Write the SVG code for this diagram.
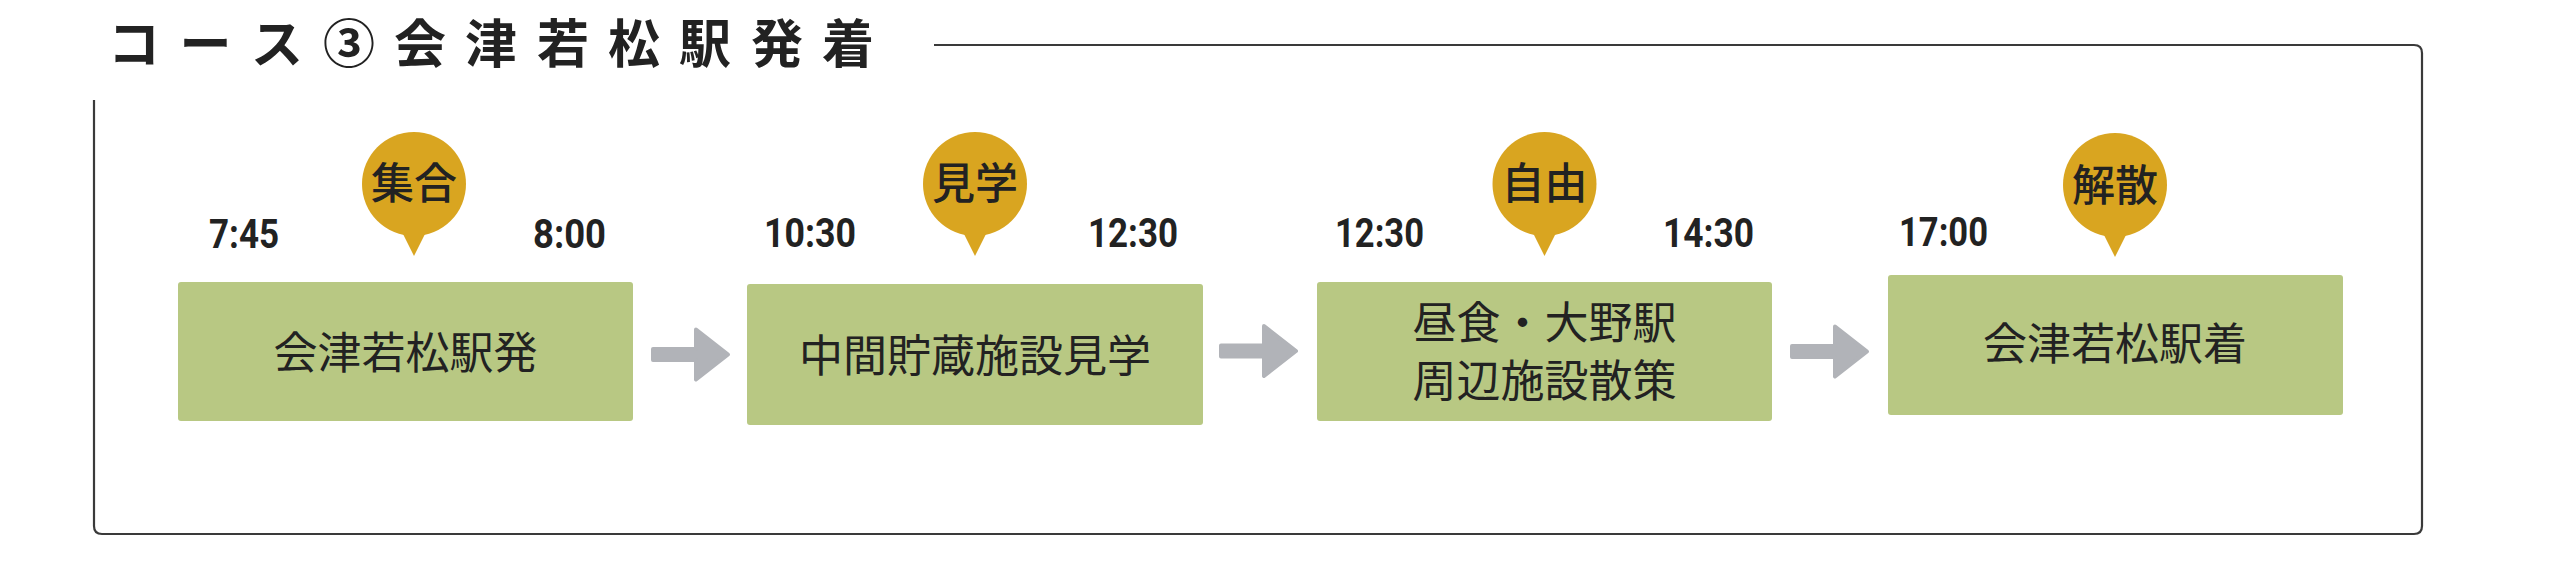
<svg xmlns="http://www.w3.org/2000/svg" xmlns:xlink="http://www.w3.org/1999/xlink" width="2560" height="574" viewBox="0 0 2560 574">
<style>
.title{font-family:"Noto Sans CJK JP","Noto Sans",sans-serif;font-size:52px;font-weight:700;fill:#222;text-anchor:middle}
.time{font-family:Roboto,"Liberation Sans",sans-serif;font-size:40px;font-weight:700;fill:#222}
.box{fill:#b8c883}
.btxt{font-family:"Noto Sans CJK JP",sans-serif;font-size:44px;font-weight:400;fill:#222;text-anchor:middle}
.bub{fill:#d9a520}
.bubtxt{font-family:"Noto Sans CJK JP",sans-serif;font-size:43px;font-weight:500;fill:#222;text-anchor:middle}
.arrow{fill:#b1b3b8;stroke:#b1b3b8;stroke-width:4;stroke-linejoin:round}
.frame{fill:none;stroke:#3a3a3a;stroke-width:2.2}
</style>
<defs>
<g id="bubble"><circle cx="0" cy="0" r="52"/><path d="M-14,44 L0,72 L14,44 Z"/></g>
<polygon id="arr" points="2,-5.5 45,-5.5 45,-25 77,0 45,25 45,5.5 2,5.5"/>
</defs>
<g id="title">
<text class="title" y="63"><tspan x="134">コ</tspan><tspan x="205.5">ー</tspan><tspan x="277">ス</tspan><tspan x="349">③</tspan><tspan x="420">会</tspan><tspan x="491">津</tspan><tspan x="563">若</tspan><tspan x="634">松</tspan><tspan x="705">駅</tspan><tspan x="777">発</tspan><tspan x="848">着</tspan></text>
</g>
<g id="frame">
<path class="frame" d="M934,45 H2414 Q2422,45 2422,53 V526 Q2422,534 2414,534 H102 Q94,534 94,526 V100"/>
</g>
<g id="connectors">
<use xlink:href="#arr" class="arrow" transform="translate(651,354.5)"/>
<use xlink:href="#arr" class="arrow" transform="translate(1219,351)"/>
<use xlink:href="#arr" class="arrow" transform="translate(1790,351.5)"/>
</g>
<g id="node1">
<rect class="box" x="178" y="282" width="455" height="139" rx="3"/>
<text class="btxt" x="405.5" y="368.5">会津若松駅発</text>
<text class="time" x="209" y="248" textLength="70" lengthAdjust="spacingAndGlyphs">7:45</text>
<text class="time" x="533" y="248" textLength="73" lengthAdjust="spacingAndGlyphs">8:00</text>
<use xlink:href="#bubble" class="bub" transform="translate(414,184)"/>
<text class="bubtxt" x="414" y="199">集合</text>
</g>
<g id="node2">
<rect class="box" x="747" y="284" width="456" height="141" rx="3"/>
<text class="btxt" x="975" y="372">中間貯蔵施設見学</text>
<text class="time" x="764" y="247" textLength="92" lengthAdjust="spacingAndGlyphs">10:30</text>
<text class="time" x="1088" y="247" textLength="90" lengthAdjust="spacingAndGlyphs">12:30</text>
<use xlink:href="#bubble" class="bub" transform="translate(975,184)"/>
<text class="bubtxt" x="975" y="199">見学</text>
</g>
<g id="node3">
<rect class="box" x="1317" y="282" width="455" height="139" rx="3"/>
<text class="btxt" x="1544.5" y="339">昼食・大野駅</text>
<text class="btxt" x="1544.5" y="396.5">周辺施設散策</text>
<text class="time" x="1335" y="247" textLength="89" lengthAdjust="spacingAndGlyphs">12:30</text>
<text class="time" x="1663" y="247" textLength="91" lengthAdjust="spacingAndGlyphs">14:30</text>
<use xlink:href="#bubble" class="bub" transform="translate(1544.5,184)"/>
<text class="bubtxt" x="1544.5" y="199">自由</text>
</g>
<g id="node4">
<rect class="box" x="1888" y="275" width="455" height="140" rx="3"/>
<text class="btxt" x="2115" y="360">会津若松駅着</text>
<text class="time" x="1899" y="246" textLength="89" lengthAdjust="spacingAndGlyphs">17:00</text>
<use xlink:href="#bubble" class="bub" transform="translate(2115,185)"/>
<text class="bubtxt" x="2115" y="201">解散</text>
</g>
</svg>
